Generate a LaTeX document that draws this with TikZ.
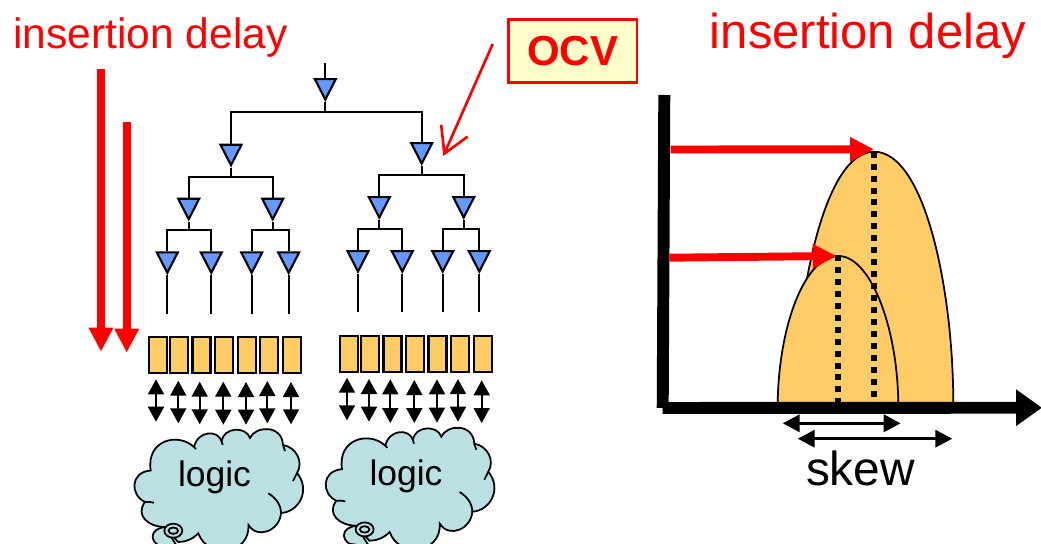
\documentclass[tikz,border=0pt]{standalone}
\usepackage{fontspec}
\setmainfont{Liberation Sans}
\usepackage{xcolor}
\usepackage{tikz}
\usetikzlibrary{shapes,arrows.meta,positioning,calc}

\definecolor{bufblue}{HTML}{6699FF}
\definecolor{flopyellow}{HTML}{FFCC66}
\definecolor{cloudblue}{HTML}{BBE0E3}
\definecolor{notefill}{HTML}{FFFFCC}

% one cloud, drawn at the left position and moved by the scope
\newcommand{\logiccloud}[1]{
\begin{scope}[shift={#1}]
\draw[cloudline] (165,527) .. controls (150,529) and (150,540) .. (158,545) -- (178,548) -- cycle;
\draw[cloudline] (150.7,470.5) .. controls (146,440) and (178,432) .. (194,447)
  .. controls (198,430) and (218,430) .. (221.5,441)
  .. controls (224,427) and (246,426) .. (250,438)
  .. controls (255,426) and (282,424) .. (283,445)
  .. controls (296,447) and (304,462) .. (297,473)
  .. controls (311,490) and (299,512) .. (281,513)
  .. controls (280,530) and (258,540) .. (248.5,525)
  .. controls (250,555) and (208,560) .. (198.3,533.3)
  .. controls (192,540) and (184,542) .. (178,542)
  -- (165,527)
  .. controls (148,527) and (135,515) .. (145,502)
  .. controls (130,495) and (130,472) .. cycle;
% little ticks where the bumps meet
\draw[cloudtick] (145,502) .. controls (148,501.5) and (151,502) .. (154,502.7);
\draw[cloudtick] (194,447) -- (196,449);
\draw[cloudtick] (221.5,441) -- (222.7,445);
\draw[cloudtick] (283,445) -- (285,451);
\draw[cloudtick] (297,473) -- (293,481);
\draw[cloudtick] (268.3,493.3) .. controls (276,498) and (281,505) .. (281,513);
% the two rings at the foot
\draw[cloudline] (173.3,530.7) ellipse (9 and 7);
\draw[cloudline] (173.3,530.7) ellipse (4.8 and 3.2);
\end{scope}
}

\begin{document}
\begin{tikzpicture}[
    x=0.02cm, y=-0.02cm,
    buffer/.style={isosceles triangle, isosceles triangle apex angle=54, isosceles triangle stretches, shape border rotate=270, draw=black, fill=bufblue, line width=1.2pt, inner sep=0pt, minimum width=0.42cm, minimum height=0.41cm, anchor=north},
    wire/.style={line width=1.1pt, black},
    flop/.style={rectangle, draw=black, fill=flopyellow, line width=1.2pt, inner sep=0pt, minimum width=0.36cm, minimum height=0.72cm},
    updown/.style={{Triangle[length=0.3cm,width=0.32cm]}-{Triangle[length=0.3cm,width=0.32cm]}, line width=1pt},
    cloudline/.style={line width=1pt, draw=black, fill=cloudblue},
    cloudtick/.style={line width=1pt, black},
    redarrow/.style={-{Triangle[length=0.48cm,width=0.46cm]}, line width=4.5pt, red},
    skewarrow/.style={{Triangle[length=0.34cm,width=0.34cm]}-{Triangle[length=0.34cm,width=0.34cm]}, line width=2pt},
    hump/.style={line width=1pt, draw=black, fill=flopyellow},
    peakline/.style={line width=3.6pt, black, dash pattern=on 3.4pt off 3.4pt},
    axis/.style={line width=6.8pt, black}
]
\clip (0,0) rectangle (1041,544);

% Titles
\node[anchor=base, inner sep=0pt, red, font=\fontsize{24.2}{28}\selectfont] (titleleft) at (150.5,49) {insertion delay};
\node[anchor=base, inner sep=0pt, red, font=\fontsize{27.9}{32}\selectfont] (titleright) at (868,49) {insertion delay};

% OCV note
\node[rectangle, draw=red, fill=notefill, text=red, line width=1.5pt, minimum width=2.57cm, minimum height=1.26cm, inner sep=0pt, font=\fontsize{23.9}{28}\selectfont\bfseries] (note) at (572.7,50.7) {OCV};
\coordinate (notestart) at (492.7,44);
\coordinate (noteend) at (443.3,156);
\draw[-{Straight Barb[length=0.5cm,width=0.58cm]}, line width=1.5pt, red] (notestart) -- (noteend);

% Delay arrows on the left
\coordinate (downa) at (101,69);
\coordinate (downaend) at (101,351.7);
\coordinate (downb) at (126.7,122);
\coordinate (downbend) at (126.7,352.7);
\draw[redarrow] (downa) -- (downaend);
\draw[redarrow] (downb) -- (downbend);

% Buffers
\node[buffer] (b0) at (325.3,78) {};
\node[buffer] (b1) at (231,143.7) {};
\node[buffer] (b2) at (421.7,142) {};
\node[buffer] (b3) at (188.7,197.7) {};
\node[buffer] (b4) at (272.7,197.7) {};
\node[buffer] (b5) at (379.3,196) {};
\node[buffer] (b6) at (463.7,196) {};
\node[buffer] (l1) at (167.3,251.3) {};
\node[buffer] (l2) at (211.3,251.3) {};
\node[buffer] (l3) at (251.7,251.3) {};
\node[buffer] (l4) at (288.7,251.3) {};
\node[buffer] (l5) at (358,250) {};
\node[buffer] (l6) at (402.3,250) {};
\node[buffer] (l7) at (442.7,250) {};
\node[buffer] (l8) at (479.3,250) {};

% Clock wires
\coordinate (clk) at (325.3,63);
\coordinate (j0) at (325.3,111.7);
\coordinate (j1) at (231,176.7);
\coordinate (j2) at (421.7,175.3);
\coordinate (j3) at (188.7,230.3);
\coordinate (j4) at (272.7,230);
\coordinate (j5) at (379.3,229);
\coordinate (j6) at (463.7,228.7);
\draw[wire] (clk) -- (b0.north);
\draw[wire] (b0.south) -- (j0);
\draw[wire] (b1.north) |- (j0) -| (b2.north);
\draw[wire] (b1.south) -- (j1);
\draw[wire] (b3.north) |- (j1) -| (b4.north);
\draw[wire] (b2.south) -- (j2);
\draw[wire] (b5.north) |- (j2) -| (b6.north);
\draw[wire] (b3.south) -- (j3);
\draw[wire] (l1.north) |- (j3) -| (l2.north);
\draw[wire] (b4.south) -- (j4);
\draw[wire] (l3.north) |- (j4) -| (l4.north);
\draw[wire] (b5.south) -- (j5);
\draw[wire] (l5.north) |- (j5) -| (l6.north);
\draw[wire] (b6.south) -- (j6);
\draw[wire] (l7.north) |- (j6) -| (l8.north);

% Leaf wires
\draw[wire] (l1.south) -- +(0,38.5);
\draw[wire] (l2.south) -- +(0,38.5);
\draw[wire] (l3.south) -- +(0,38.5);
\draw[wire] (l4.south) -- +(0,38.5);
\draw[wire] (l5.south) -- +(0,38.5);
\draw[wire] (l6.south) -- +(0,38.5);
\draw[wire] (l7.south) -- +(0,38.5);
\draw[wire] (l8.south) -- +(0,38.5);

% Flops
\node[flop] (fa1) at (157.7,355.3) {};
\node[flop] (fa2) at (179.2,355.3) {};
\node[flop] (fa3) at (201.5,355.3) {};
\node[flop] (fa4) at (224,355.3) {};
\node[flop] (fa5) at (246.7,355.3) {};
\node[flop] (fa6) at (269,355.3) {};
\node[flop] (fa7) at (291.7,355.3) {};
\node[flop] (fb1) at (348.7,354) {};
\node[flop] (fb2) at (369.9,354) {};
\node[flop] (fb3) at (392.5,354) {};
\node[flop] (fb4) at (415.2,354) {};
\node[flop] (fb5) at (437.5,354) {};
\node[flop] (fb6) at (460.2,354) {};
\node[flop] (fb7) at (482.9,354) {};

% Data arrows
\coordinate (ta1) at (156,379.3); \coordinate (ua1) at (156,421.7);
\coordinate (ta2) at (178.3,380.7); \coordinate (ua2) at (178.3,423.3);
\coordinate (ta3) at (199.7,381.7); \coordinate (ua3) at (199.7,424.3);
\coordinate (ta4) at (223.3,381.7); \coordinate (ua4) at (223.3,424.7);
\coordinate (ta5) at (246,382); \coordinate (ua5) at (246,424.7);
\coordinate (ta6) at (267.3,381); \coordinate (ua6) at (267.3,423.3);
\coordinate (ta7) at (291,382); \coordinate (ua7) at (291,424.3);
\coordinate (tb1) at (347,377.7); \coordinate (ub1) at (347,420.3);
\coordinate (tb2) at (369,379); \coordinate (ub2) at (369,421.7);
\coordinate (tb3) at (390.3,379.3); \coordinate (ub3) at (390.3,423);
\coordinate (tb4) at (414.3,380); \coordinate (ub4) at (414.3,423);
\coordinate (tb5) at (437,379.3); \coordinate (ub5) at (437,422.7);
\coordinate (tb6) at (458,379); \coordinate (ub6) at (458,421.7);
\coordinate (tb7) at (481.7,380.3); \coordinate (ub7) at (481.7,423);
\draw[updown] (ta1) -- (ua1);
\draw[updown] (ta2) -- (ua2);
\draw[updown] (ta3) -- (ua3);
\draw[updown] (ta4) -- (ua4);
\draw[updown] (ta5) -- (ua5);
\draw[updown] (ta6) -- (ua6);
\draw[updown] (ta7) -- (ua7);
\draw[updown] (tb1) -- (ub1);
\draw[updown] (tb2) -- (ub2);
\draw[updown] (tb3) -- (ub3);
\draw[updown] (tb4) -- (ub4);
\draw[updown] (tb5) -- (ub5);
\draw[updown] (tb6) -- (ub6);
\draw[updown] (tb7) -- (ub7);

% Clouds
\logiccloud{(0,0)}
\logiccloud{(191.3,-1.3)}
\node[anchor=base, inner sep=0pt, font=\fontsize{20.2}{24}\selectfont] (logica) at (214.5,486) {logic};
\node[anchor=base, inner sep=0pt, font=\fontsize{20.2}{24}\selectfont] (logicb) at (406,485) {logic};

% Humps
\draw[hump] (795,402) .. controls (797,290) and (825,151.7) .. (874,151.7) .. controls (925,151.7) and (953,290) .. (953.3,402);
\draw[hump] (777.7,402) .. controls (779,325) and (805,256) .. (838.3,256) .. controls (870,256) and (897,325) .. (898.3,402);

% Peak lines
\coordinate (peaka) at (873.7,151.7);
\coordinate (feeta) at (873.7,402);
\coordinate (peakb) at (838.3,255);
\coordinate (feetb) at (838.3,402);
\draw[peakline] (peaka) -- (feeta);
\draw[peakline] (peakb) -- (feetb);

% Axes
\coordinate (origin) at (662.7,408);
\coordinate (ytop) at (664.3,95);
\coordinate (xend) at (1042,407.7);
\draw[axis] (ytop) -- (origin);
\draw[axis, -{Triangle[length=0.52cm,width=0.7cm]}] (origin) -- (xend);

% Delay arrows on the plot
\coordinate (dela) at (670.7,149.5);
\coordinate (delaend) at (874,149.3);
\coordinate (delb) at (669.3,257.7);
\coordinate (delbend) at (836.7,256);
\draw[redarrow] (dela) -- (delaend);
\draw[redarrow] (delb) -- (delbend);

% Skew
\coordinate (skewa) at (782.7,423.3);
\coordinate (skewaend) at (900.7,423.3);
\coordinate (skewb) at (797.7,438.7);
\coordinate (skewbend) at (952.3,438.7);
\draw[skewarrow] (skewa) -- (skewaend);
\draw[skewarrow] (skewb) -- (skewbend);
\node[anchor=base, inner sep=0pt, font=\fontsize{27.2}{32}\selectfont] (skew) at (860.5,485) {skew};

\end{tikzpicture}
\end{document}
